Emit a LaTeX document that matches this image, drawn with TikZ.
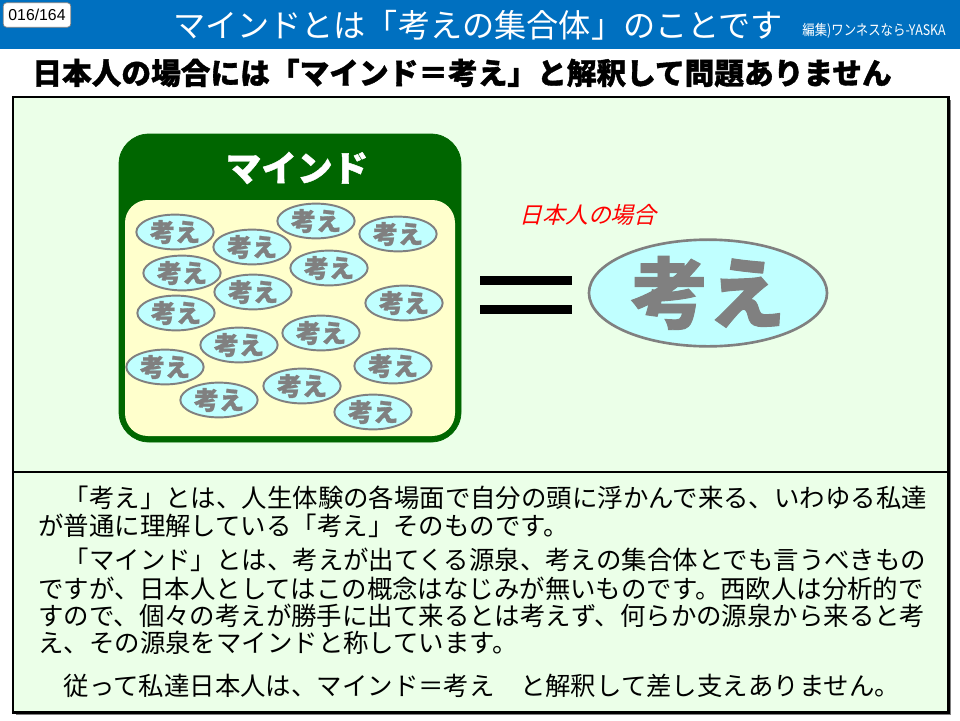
\documentclass[tikz,border=0pt]{standalone}
\usepackage{fontspec}
\setmainfont{Liberation Sans}
\newfontfamily\jp{Noto Sans CJK JP}
\newfontfamily\jpheavy[BoldFeatures={FakeBold=1.2}]{Noto Sans CJK JP}
\newfontfamily\jpit[FakeSlant=0.25]{Noto Sans CJK JP}
\usetikzlibrary{shapes.geometric}
\definecolor{hdrblue}{RGB}{0,112,192}
\definecolor{paleg}{RGB}{235,255,232}
\definecolor{mindg}{RGB}{0,102,0}
\definecolor{cream}{RGB}{255,255,204}
\definecolor{kcyan}{RGB}{192,255,255}

\begin{document}
\begin{tikzpicture}[x=0.02cm, y=-0.02cm,
  kangae/.style={ellipse, draw=gray, fill=kcyan, line width=1.1pt,
    minimum width=44pt, minimum height=19.8pt, inner sep=0pt,
    text=gray, font=\jpheavy\bfseries\fontsize{14.3}{15}\selectfont},
  line/.style={anchor=west, inner sep=0pt, font=\jp\fontsize{14.47}{16}\selectfont}]
  \useasboundingbox (0,0) rectangle (960,720);
  \fill[white] (0,0) rectangle (960,720);
  % header
  \fill[hdrblue] (0,0) rectangle (960,49);
  \node[draw=gray, fill=white, rounded corners=2pt, minimum width=38.5pt,
    minimum height=14pt, inner sep=0pt, font=\fontsize{9}{10}\selectfont]
    (page) at (37,15) {016/164};
  \node[white, font=\jp\fontsize{18.3}{20}\selectfont] (title) at (478,25)
    {マインドとは「考えの集合体」のことです};
  \node[white, xscale=0.85, transform shape, font=\jp\fontsize{8.3}{9}\selectfont]
    (credit) at (874,31) {編集)ワンネスなら-YASKA};
  \node[font=\jpheavy\bfseries\fontsize{16.9}{18}\selectfont] (sub) at (462,73)
    {日本人の場合には「マインド＝考え」と解釈して問題ありません};
  % frames
  \fill[gray] (16,100) rectangle (951,715);
  \draw[line width=1.7pt, fill=paleg] (13,97) rectangle (948,712);
  \draw[line width=1.7pt] (13,472) -- (948,472);
  % mind box
  \draw[mindg, fill=mindg, rounded corners=17pt] (119,134) rectangle (461,442);
  \fill[cream, rounded corners=13pt] (125,200) rectangle (455,436);
  \node[white, font=\jpheavy\bfseries\fontsize{20.3}{21}\selectfont] (mind) at (297,168) {マインド};
  \foreach \p [count=\i] in {(175,232),(252,247),(316,221),(398,234),(182,273),
      (329,268),(253,292),(176,313),(404,303),(239,345),(321,333),(165,367),
      (393,366),(219,400),(302,386),(373,412)}
    \node[kangae] (k\i) at \p {考え};
  % right side
  \node[red, font=\jpit\fontsize{13}{14}\selectfont] (case) at (588,215) {日本人の場合};
  \fill (480,276) rectangle (572,285);
  \fill (480,305) rectangle (572,314);
  \node[ellipse, draw=gray, fill=kcyan, line width=1.5pt, minimum width=135.5pt,
    minimum height=60.7pt, inner sep=0pt, text=gray,
    font=\jpheavy\bfseries\fontsize{44}{46}\selectfont] (big) at (708,293) {考え};
  % text
  \node[line] (l1) at (38,498) {　「考え」とは、人生体験の各場面で自分の頭に浮かんで来る、いわゆる私達};
  \node[line] (l2) at (38,526) {が普通に理解している「考え」そのものです。};
  \node[line] (l3) at (38,560) {　「マインド」とは、考えが出てくる源泉、考えの集合体とでも言うべきもの};
  \node[line] (l4) at (38,589) {ですが、日本人としてはこの概念はなじみが無いものです。西欧人は分析的で};
  \node[line] (l5) at (38,616) {すので、個々の考えが勝手に出て来るとは考えず、何らかの源泉から来ると考};
  \node[line] (l6) at (38,643) {え、その源泉をマインドと称しています。};
  \node[line] (l7) at (38,686) {　従って私達日本人は、マインド＝考え　と解釈して差し支えありません。};
\end{tikzpicture}
\end{document}
